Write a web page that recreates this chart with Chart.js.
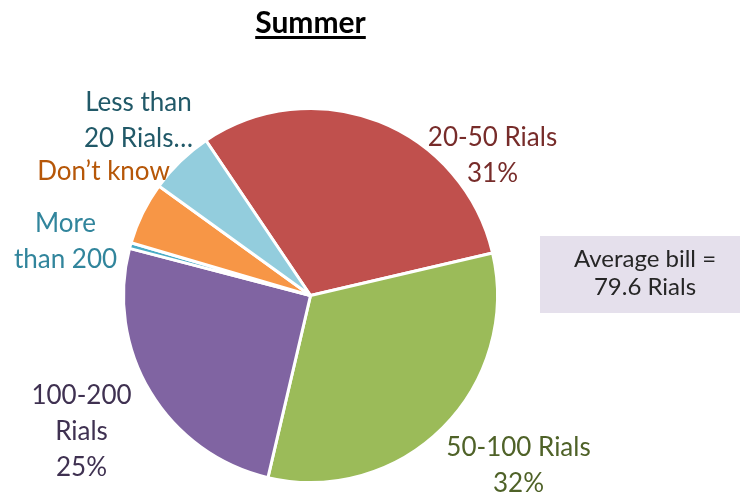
<!DOCTYPE html>
<html>
<head>
<meta charset="utf-8">
<style>
  html, body { margin: 0; padding: 0; background: #fff; }
  #wrap { width: 745px; height: 494px; }
</style>
</head>
<body>
<div id="wrap"><canvas id="pie" width="745" height="494"></canvas></div>

<script src="https://cdn.jsdelivr.net/npm/chart.js@4.4.1/dist/chart.umd.min.js"></script>
<script>
    /*
     * Data
     */
    var categories = ["20-50 Rials", "50-100 Rials", "100-200 Rials", "More than 200", "Don\u2019t know", "Less than 20 Rials"];
    var shares = [30.8, 32.3, 25.4, 0.5, 5.4, 5.6];
    var shownPercent = ["31%", "32%", "25%", "", "", ""];
    var labelLines = [
        ["20-50 Rials", "31%"],
        ["50-100 Rials", "32%"],
        ["100-200", "Rials", "25%"],
        ["More", "than 200"],
        ["Don\u2019t know"],
        ["Less than", "20 Rials\u2026"]
    ];
    var titleText = "Summer";
    var noteLines = ["Average bill =", "79.6 Rials"];

    /*
     * Styles
     */
    var sliceColors = ["#C0504D", "#9BBB59", "#8064A2", "#4BACC6", "#F79646", "#93CDDD"];
    var labelColors = ["#772C2A", "#4F6228", "#3F3151", "#31859C", "#B65708", "#215968"];
    // label anchor (centre x, first baseline) relative to pie centre
    var labelOffsets = [[182, -150], [208, 160], [-229, 108], [-245, -64], [-207, -116], [-172, -185]];
    var fontFamily = "Lato, 'Open Sans', sans-serif";
    var labelSize = 26;
    var lineHeight = 36;

    const textPlugin = {
        id: 'textPlugin',
        afterDraw(chart) {
            const ctx = chart.ctx;
            const arc = chart.getDatasetMeta(0).data[0];
            const cx = arc.x, cy = arc.y;
            ctx.save();

            // title
            ctx.font = "bold 30px " + fontFamily;
            ctx.fillStyle = "#000";
            ctx.textAlign = "center";
            ctx.textBaseline = "alphabetic";
            const tw = ctx.measureText(titleText).width;
            ctx.fillText(titleText, cx, 33);
            ctx.fillRect(cx - tw / 2, 36, tw, 3);

            // slice labels
            ctx.font = labelSize + "px " + fontFamily;
            labelLines.forEach((lines, i) => {
                ctx.fillStyle = labelColors[i];
                const off = labelOffsets[i];
                lines.forEach((line, j) => {
                    ctx.fillText(line, cx + off[0], cy + off[1] + j * lineHeight);
                });
            });

            // note box
            ctx.fillStyle = "#E5E0EC";
            ctx.fillRect(540, 236, 200, 77);
            ctx.fillStyle = "#262626";
            ctx.font = "24px " + fontFamily;
            ctx.fillText(noteLines[0], 645, 267);
            ctx.fillText(noteLines[1], 645, 295);
            ctx.restore();
        }
    };

    var chart = new Chart(document.getElementById("pie"), {
        type: 'pie',
        data: {
            labels: categories,
            datasets: [{
                data: shares,
                backgroundColor: sliceColors,
                borderColor: '#ffffff',
                borderWidth: 3
            }]
        },
        options: {
            responsive: false,
            animation: false,
            rotation: -34,
            layout: {
                padding: { left: 122, right: 246, top: 107, bottom: 10 }
            },
            plugins: {
                legend: { display: false },
                tooltip: { enabled: false },
                title: { display: false }
            }
        },
        plugins: [textPlugin]
    });
</script>
</body>
</html>
